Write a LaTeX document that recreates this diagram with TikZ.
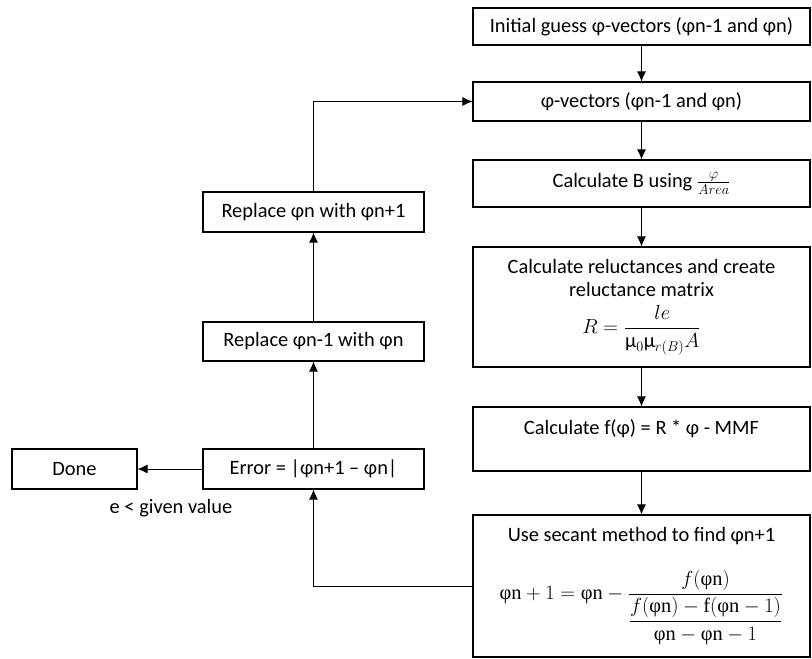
\documentclass[tikz,border=0pt]{standalone}
\usepackage{fix-cm}
\usepackage{amsmath}
\usepackage[no-math]{fontspec}
\setmainfont{Carlito}
\newfontfamily\grserif{Liberation Serif}
\usetikzlibrary{arrows.meta}
\newcommand{\pn}{\mbox{\grserif φn}}

\begin{document}
\begin{tikzpicture}[x=1pt,y=-1pt,
    blk/.style={draw, line width=1.1pt, align=center, inner sep=0pt, font=\fontsize{20.4}{23}\selectfont},
    arr/.style={-{Latex[length=10pt,width=9pt]}, line width=1pt}]
    \useasboundingbox (0,0) rectangle (812,659);
    % right column
    \node[blk, minimum width=337pt, minimum height=37pt] (init) at (641.5,26.5)
    {Initial guess φ-vectors (φn-1 and φn)};
    \node[blk, minimum width=337pt, minimum height=39pt] (vec) at (641.5,101.5)
    {φ-vectors (φn-1 and φn)};
    \node[blk, minimum width=337pt, minimum height=47pt] (calcB) at (641.5,183.5)
    {Calculate B using $\frac{\varphi}{Area}$};
    \node[blk, minimum width=337pt, minimum height=120pt] (relu) at (641.5,307)
    {Calculate reluctances and create\\reluctance matrix\\[8pt]
    $\displaystyle R = \frac{le}{\mbox{μ}_0\mbox{μ}_{r(B)}A}$};
    \node[blk, minimum width=337pt, minimum height=64pt] (fphi) at (641.5,439)
    {Calculate f(φ) = R * φ - MMF\\ \mbox{}};
    \node[blk, minimum width=337pt, minimum height=142pt] (secant) at (641.5,586)
    {Use secant method to find φn+1\\[24pt]
    $\displaystyle \pn + 1 = \pn - \frac{f(\pn)}{\dfrac{f(\pn) - \mbox{\grserif f}(\pn - 1)}{\pn - \pn - 1}}$};
    % left column
    \node[blk, minimum width=221pt, minimum height=40pt] (repl2) at (313.5,212)
    {Replace φn with φn+1};
    \node[blk, minimum width=221pt, minimum height=39pt] (repl1) at (313.5,341.5)
    {Replace φn-1 with φn};
    \node[blk, minimum width=221pt, minimum height=40pt] (err) at (313.5,469)
    {Error = |φn+1 – φn|};
    \node[blk, minimum width=125pt, minimum height=40pt] (done) at (74.5,469)
    {Done};
    \node[font=\fontsize{20.4}{23}\selectfont] (cond) at (171,508) {e < given value};
    % connectors
    \draw[arr] (init) -- (vec);
    \draw[arr] (vec) -- (calcB);
    \draw[arr] (calcB) -- (relu);
    \draw[arr] (relu) -- (fphi);
    \draw[arr] (fphi) -- (secant);
    \draw[arr] (secant.west) -| (err.south);
    \draw[arr] (err) -- (repl1);
    \draw[arr] (repl1) -- (repl2);
    \draw[arr] (repl2.north) |- (vec.west);
    \draw[arr] (err) -- (done);
\end{tikzpicture}
\end{document}
